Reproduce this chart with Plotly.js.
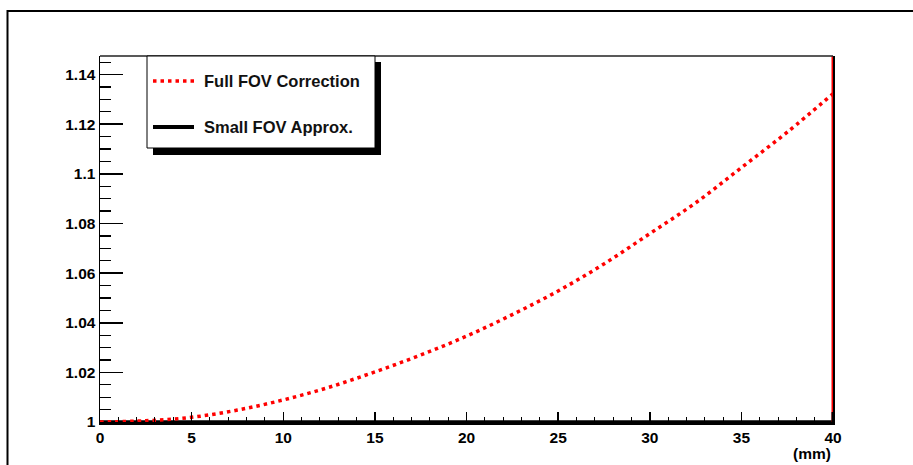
<!DOCTYPE html>
<html>
<head>
<meta charset="utf-8">
<script src="https://cdn.plot.ly/plotly-3.0.1.min.js"></script>
<style>html,body{margin:0;padding:0;background:#fff;}#chart{width:913px;height:465px;}</style>
</head>
<body>
<div id="chart"></div>
<script>
// Data
var positionsMM = [0, 2.5, 5, 7.5, 10, 12.5, 15, 17.5, 20, 22.5, 25, 27.5, 30, 32.5, 35, 37.5, 40];
var fullFovCorrection = [1.0000, 1.0005, 1.0019, 1.0048, 1.0089, 1.0140, 1.0202, 1.0270, 1.0346, 1.0433, 1.0528, 1.0637, 1.0759, 1.0883, 1.1025, 1.1168, 1.1323];
var smallFovX = [0, 40];
var smallFovY = [1, 1];
var edgeX = [40, 40];
var edgeRedY = [1, 1.1475];
var edgeBlackY = [1, 1.004];
var yTickVals = [1, 1.02, 1.04, 1.06, 1.08, 1.1, 1.12, 1.14];
var yTickText = ['1', '1.02', '1.04', '1.06', '1.08', '1.1', '1.12', '1.14'];
var xTickVals = [0, 5, 10, 15, 20, 25, 30, 35, 40];
var xTickText = ['0', '5', '10', '15', '20', '25', '30', '35', '40'];
var legendNames = ['Full FOV Correction', 'Small FOV Approx.'];
var xUnit = '(mm)';

var FONT = 'Liberation Sans, Arial, Helvetica, sans-serif';

var traces = [
  {x: smallFovX, y: smallFovY, mode: 'lines', cliponaxis: false, line: {color: '#000', width: 3.5}, showlegend: false, hoverinfo: 'skip'},
  {x: edgeX, y: edgeRedY, mode: 'lines', line: {color: '#ff0000', width: 3}, showlegend: false, hoverinfo: 'skip'},
  {x: edgeX, y: edgeBlackY, mode: 'lines', line: {color: '#000', width: 3}, showlegend: false, hoverinfo: 'skip'},
  {x: positionsMM, y: fullFovCorrection, mode: 'lines', cliponaxis: false, line: {color: '#ff0000', width: 3.5, dash: '3.5px,4px', shape: 'spline'}, showlegend: false, hoverinfo: 'skip'}
];

function px(v){ return (v - 100) / 733; }
function py(v){ return (422 - v) / 366; }

var layout = {
  width: 913, height: 465,
  margin: {l: 100, r: 80, t: 56, b: 43},
  paper_bgcolor: '#fff', plot_bgcolor: '#fff',
  showlegend: false,
  font: {family: FONT, color: '#000'},
  xaxis: {
    range: [0, 40], showgrid: false, zeroline: false,
    showline: true, linecolor: '#000', linewidth: 2.5, mirror: false,
    ticks: 'inside', ticklen: 10, tickwidth: 1.5, tickcolor: '#000',
    tickvals: xTickVals, ticktext: xTickText,
    tickfont: {family: FONT, size: 15.5, weight: 'bold', color: '#000'},
    minor: {dtick: 1, tick0: 0, ticks: 'inside', ticklen: 5, tickwidth: 1, tickcolor: '#000', showgrid: false}
  },
  yaxis: {
    range: [1, 1.1475], showgrid: false, zeroline: false,
    showline: true, linecolor: '#000', linewidth: 1.5, mirror: true,
    ticks: 'inside', ticklen: 23, tickwidth: 1.5, tickcolor: '#000',
    tickvals: yTickVals, ticktext: yTickText,
    tickfont: {family: FONT, size: 15.5, weight: 'bold', color: '#000'},
    minor: {dtick: 0.005, tick0: 1, ticks: 'inside', ticklen: 11, tickwidth: 1.2, tickcolor: '#000', showgrid: false}
  },
  shapes: [
    {type: 'rect', xref: 'paper', yref: 'paper', x0: px(7.5), x1: px(930), y0: py(480), y1: py(11), line: {color: '#000', width: 2}, fillcolor: 'rgba(0,0,0,0)'},
    {type: 'line', xref: 'paper', yref: 'paper', x0: 0, x1: 1, y0: 1, y1: 1, line: {color: '#222', width: 1.5}},
    {type: 'rect', xref: 'paper', yref: 'paper', x0: px(153), x1: px(381), y0: py(155), y1: py(62), line: {width: 0}, fillcolor: '#000'},
    {type: 'rect', xref: 'paper', yref: 'paper', x0: px(147), x1: px(375), y0: py(148), y1: py(56), line: {color: '#000', width: 1}, fillcolor: '#fff'},
    {type: 'line', xref: 'paper', yref: 'paper', x0: px(153), x1: px(194), y0: py(81), y1: py(81), line: {color: '#ff0000', width: 3.5, dash: '3.5px,4px'}},
    {type: 'line', xref: 'paper', yref: 'paper', x0: px(153), x1: px(194), y0: py(127), y1: py(127), line: {color: '#000', width: 4}}
  ],
  annotations: [
    {xref: 'paper', yref: 'paper', x: px(202), y: py(81), xanchor: 'left', yanchor: 'middle', showarrow: false, text: legendNames[0], font: {family: FONT, size: 16.5, weight: 'bold', color: '#111'}},
    {xref: 'paper', yref: 'paper', x: px(202), y: py(127), xanchor: 'left', yanchor: 'middle', showarrow: false, text: legendNames[1], font: {family: FONT, size: 16.5, weight: 'bold', color: '#111'}},
    {xref: 'paper', yref: 'paper', x: px(833), y: py(453), xanchor: 'right', yanchor: 'middle', showarrow: false, text: xUnit, font: {family: FONT, size: 15.5, weight: 'bold', color: '#000'}}
  ]
};

Plotly.newPlot('chart', traces, layout, {displayModeBar: false, staticPlot: true});
</script>
</body>
</html>
